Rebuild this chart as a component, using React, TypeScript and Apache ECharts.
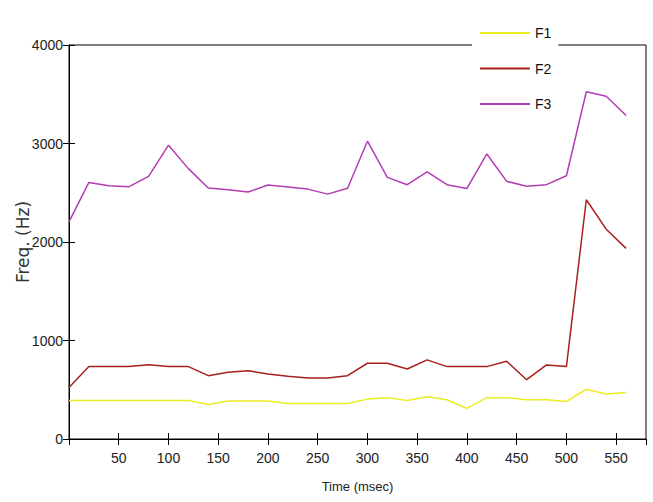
import React, { useEffect, useRef } from "react";
import * as echarts from "echarts";

const times = [0, 20, 40, 60, 80, 100, 120, 140, 160, 180, 200, 220, 240, 260, 280, 300, 320, 340, 360, 380, 400, 420, 440, 460, 480, 500, 520, 540, 560];
const f1 = [390, 390, 390, 390, 390, 390, 390, 350, 385, 385, 385, 360, 360, 360, 360, 405, 420, 390, 428, 398, 310, 420, 420, 398, 398, 381, 505, 456, 473];
const f2 = [523, 735, 735, 735, 755, 735, 735, 643, 677, 694, 660, 636, 619, 619, 643, 769, 769, 711, 803, 735, 735, 735, 789, 602, 752, 735, 2429, 2130, 1935];
const f3 = [2205, 2605, 2571, 2560, 2667, 2983, 2745, 2548, 2531, 2507, 2578, 2558, 2537, 2486, 2545, 3023, 2656, 2582, 2711, 2582, 2544, 2894, 2616, 2565, 2582, 2673, 3525, 3480, 3285];
const seriesNames = ["F1", "F2", "F3"];
const seriesColors = ["#ecec24", "#a8201e", "#b43cb4"];

const sans = "'Liberation Sans', Arial, sans-serif";

export default function App() {
  const ref = useRef<HTMLDivElement>(null);
  useEffect(() => {
    if (!ref.current) return;
    const chart = echarts.init(ref.current, undefined, { renderer: "svg" });
    const pairs = (ys: number[]) => times.map((t, i) => [t, ys[i]]);
    const tickStyle = { show: true, inside: true, length: 6, lineStyle: { color: "#000", width: 1 } };
    chart.setOption({
      animation: false,
      backgroundColor: "#fff",
      grid: {
        left: 69,
        right: 7,
        top: 45,
        bottom: 63,
        show: true,
        borderColor: "#000",
        borderWidth: 1,
        backgroundColor: "transparent",
        containLabel: false,
        outerBoundsMode: "none",
      },
      legend: {
        data: seriesNames,
        orient: "vertical",
        left: 472,
        top: 0,
        padding: [25, 7, 8, 8],
        itemWidth: 50,
        itemHeight: 2,
        itemGap: 19.5,
        icon: "rect",
        backgroundColor: "#fff",
        z: 10,
        textStyle: { fontFamily: sans, fontSize: 14, lineHeight: 16, color: "#111" },
      },
      xAxis: [
        {
          type: "value",
          min: 0,
          max: 580,
          interval: 50,
          name: "Time (msec)",
          nameLocation: "middle",
          nameGap: 41,
          nameMoveOverlap: false,
          nameTextStyle: { fontFamily: sans, fontSize: 13, color: "#222" },
          axisLine: { show: true, lineStyle: { color: "#000" } },
          axisTick: tickStyle,
          splitLine: { show: false },
          axisLabel: {
            margin: 12,
            fontFamily: sans,
            fontSize: 14,
            color: "#222",
            showMaxLabel: false,
            formatter: (v: number) => (v === 0 || v % 50 !== 0 ? "" : String(v)),
          },
        },
        {
          type: "value",
          position: "top",
          min: 0,
          max: 580,
          interval: 50,
          axisLine: { show: true, lineStyle: { color: "#000" } },
          axisTick: tickStyle,
          splitLine: { show: false },
          axisLabel: { show: false },
        },
      ],
      yAxis: [
        {
          type: "value",
          min: 0,
          max: 4000,
          interval: 1000,
          name: "Freq. (Hz)",
          nameLocation: "middle",
          nameGap: 38,
          nameMoveOverlap: false,
          nameTextStyle: { fontFamily: "'DejaVu Sans', sans-serif", fontSize: 17, color: "#333" },
          axisLine: { show: true, lineStyle: { color: "#000" } },
          axisTick: tickStyle,
          splitLine: { show: false },
          axisLabel: { margin: 6, fontFamily: sans, fontSize: 14, color: "#222", formatter: (v: number) => String(v) },
        },
        {
          type: "value",
          position: "right",
          min: 0,
          max: 4000,
          interval: 1000,
          axisLine: { show: true, lineStyle: { color: "#000" } },
          axisTick: tickStyle,
          splitLine: { show: false },
          axisLabel: { show: false },
        },
      ],
      series: [f1, f2, f3].map((ys, i) => ({
        name: seriesNames[i],
        type: "line",
        xAxisIndex: 0,
        yAxisIndex: 0,
        data: pairs(ys),
        symbol: "none",
        color: seriesColors[i],
        lineStyle: { color: seriesColors[i], width: 1.5 },
      })),
    });
    return () => chart.dispose();
  }, []);
  return <div ref={ref} style={{ position: "absolute", left: 0, top: 0, width: 653, height: 502 }} />;
}
